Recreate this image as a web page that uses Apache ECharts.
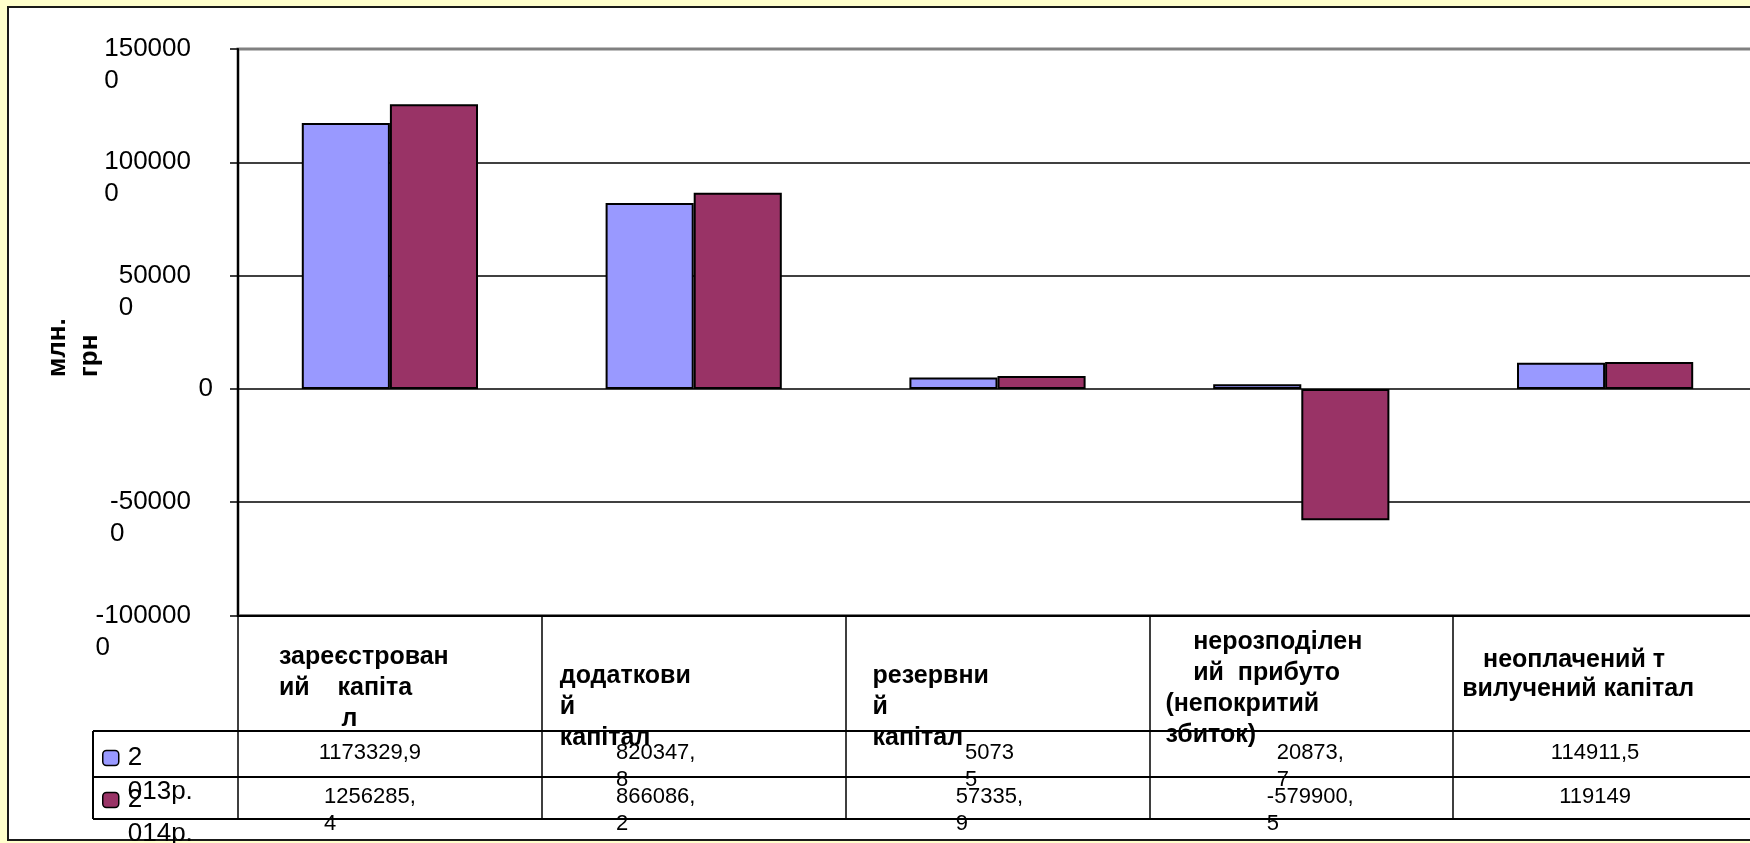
<!DOCTYPE html>
<html>
<head>
<meta charset="utf-8">
<title>Власний капітал</title>
<script src="https://cdn.jsdelivr.net/npm/echarts@6/dist/echarts.min.js"></script>
<style>
    html, body {
        margin: 0;
        padding: 0;
        background: #ffffcc;
        overflow: hidden;
    }
    .panel {
        position: absolute;
        left: 7px;
        top: 6px;
        width: 1800px;
        height: 831px;
        background: #fff;
        border: 2px solid #1a1a1a;
    }
    #chart {
        position: absolute;
        left: 0;
        top: 0;
        width: 1750px;
        height: 843px;
    }
</style>
</head>
<body>
<div class="panel"></div>
<div id="chart"></div>
<script>
    // підписи категорій так, як вони перенесені в таблиці даних
    var categories = [
        'зареєстрован\nий    капіта\n         л',
        'додаткови\nй\nкапітал',
        'резервни\nй\nкапітал',
        '    нерозподілен\n    ий  прибуто\n(непокритий\nзбиток)',
        '   неоплачений т\nвилучений капітал'
    ];
    var seriesNames = ['2013р.', '2014р.'];
    var values2013 = [1173329.9, 820347.8, 50735, 20873.7, 114911.5];
    var values2014 = [1256285.4, 866086.2, 57335.9, -579900.5, 119149];
    var yMin = -1000000;
    var yMax = 1500000;
    var yStep = 500000;

    // де в таблиці останній знак переноситься на новий рядок
    var wrap2013 = [false, true, true, true, false];
    var wrap2014 = [true, true, true, true, false];
    // відступи заголовків колонок [зверху, зліва] і висота рядка
    var headerPad = [[18, 41], [37, 18], [37, 27], [3, 16], [22, 9]];
    var headerLineHeight = [31, 31, 31, 31, 29];
    // зсув чисел у клітинках від середини колонки
    var cellShift = [-20, -38, -8, 9, -10];

    var font = '"Liberation Sans", Arial, sans-serif';
    var colors = ['#9999ff', '#993366'];

    function cellText(v) {
        return String(v).replace('.', ',');
    }
    function wrapLast(s) {
        return s.slice(0, -1) + '\n' + s.slice(-1);
    }
    function rowLabels(values, wraps) {
        return values.map(function (v, i) {
            var s = cellText(v);
            var t = cellShift[i];
            return {
                value: wraps[i] ? wrapLast(s) : s,
                textStyle: {
                    align: 'center',
                    verticalAlign: 'top',
                    padding: [0, Math.max(0, -2 * t), 0, Math.max(0, 2 * t)]
                }
            };
        });
    }
    function richLines(s) {
        return s.split('\n').map(function (line) {
            return '{v|' + line + '}';
        }).join('\n');
    }

    var headerData = categories.map(function (name, i) {
        return {
            value: name,
            textStyle: {
                align: 'left',
                verticalAlign: 'top',
                padding: [headerPad[i][0], 0, 0, headerPad[i][1]],
                lineHeight: headerLineHeight[i]
            }
        };
    });
    headerData.push('');

    function valueAxis(labels, margin) {
        return {
            type: 'category',
            gridIndex: 0,
            position: 'bottom',
            data: labels,
            min: 0,
            max: labels.length - 1,
            axisLine: {show: false, onZero: false},
            axisTick: {show: false},
            splitLine: {show: false},
            axisLabel: {
                interval: 0,
                margin: margin,
                formatter: function (value) {
                    return richLines(value);
                },
                rich: {
                    v: {fontSize: 22, fontFamily: font, color: '#000', lineHeight: 27, align: 'left'}
                }
            }
        };
    }

    function legendFor(index, top) {
        return {
            data: [seriesNames[index]],
            left: 102,
            top: top,
            orient: 'vertical',
            padding: 0,
            itemWidth: 16,
            itemHeight: 15,
            selectedMode: false,
            itemStyle: {borderColor: '#000', borderWidth: 1.5},
            textStyle: {fontSize: 26, fontFamily: font, color: '#000', lineHeight: 34, padding: [0, 0, 0, 4]},
            formatter: function (name) {
                return '\u00a0\n' + name.slice(0, 1) + '\n' + name.slice(1);
            }
        };
    }

    var chart = echarts.init(document.getElementById('chart'));
    chart.setOption({
        animation: false,
        textStyle: {fontFamily: font},
        grid: {
            left: 238,
            top: 49,
            width: 1519,
            bottom: 227.5,
            outerBoundsMode: 'none',
            show: true,
            borderColor: '#808080',
            borderWidth: 3
        },
        legend: [legendFor(0, 707), legendFor(1, 749)],
        xAxis: [
            {
                type: 'category',
                position: 'bottom',
                data: categories,
                axisLine: {show: true, onZero: false, lineStyle: {color: '#000', width: 2}},
                axisTick: {show: true, length: 203.5, lineStyle: {color: '#000', width: 1.5}},
                axisLabel: {show: false},
                splitLine: {show: false}
            },
            {
                type: 'category',
                position: 'bottom',
                boundaryGap: false,
                data: headerData,
                min: 0,
                max: headerData.length - 1,
                axisLine: {show: false, onZero: false},
                axisTick: {show: false},
                splitLine: {show: false},
                axisLabel: {
                    interval: 0,
                    margin: 8,
                    align: 'left',
                    verticalAlign: 'top',
                    fontSize: 25,
                    fontWeight: 'bold',
                    fontFamily: font,
                    color: '#000',
                    lineHeight: 31
                }
            },
            valueAxis(rowLabels(values2013, wrap2013), 124),
            valueAxis(rowLabels(values2014, wrap2014), 168)
        ],
        yAxis: {
            type: 'value',
            min: yMin,
            max: yMax,
            interval: yStep,
            axisLine: {show: true, lineStyle: {color: '#000', width: 2}},
            axisTick: {show: true, length: 8, lineStyle: {color: '#000', width: 1.5}},
            splitLine: {show: true, showMaxLine: false, lineStyle: {color: '#000', width: 1.5}},
            axisLabel: {
                margin: 25,
                color: '#000',
                fontSize: 26,
                fontFamily: font,
                formatter: function (value) {
                    if (value === 0) {
                        return '0';
                    }
                    var lines = wrapLast(String(value)).split('\n');
                    return '{m|\u00a0}\n{m|' + lines[0] + '}\n{m|' + lines[1] + '}';
                },
                rich: {
                    m: {fontSize: 26, fontFamily: font, color: '#000', lineHeight: 32, align: 'left', padding: [0, 22, 0, 0]}
                }
            }
        },
        series: [
            {
                name: seriesNames[0],
                type: 'bar',
                xAxisIndex: 0,
                barGap: '0%',
                barCategoryGap: '42%',
                itemStyle: {color: colors[0], borderColor: '#000', borderWidth: 2},
                data: values2013
            },
            {
                name: seriesNames[1],
                type: 'bar',
                xAxisIndex: 0,
                barGap: '0%',
                barCategoryGap: '42%',
                itemStyle: {color: colors[1], borderColor: '#000', borderWidth: 2},
                data: values2014
            }
        ],
        graphic: [
            {type: 'line', shape: {x1: 93, y1: 731, x2: 1750, y2: 731}, style: {stroke: '#000', lineWidth: 2}},
            {type: 'line', shape: {x1: 93, y1: 777, x2: 1750, y2: 777}, style: {stroke: '#000', lineWidth: 2}},
            {type: 'line', shape: {x1: 93, y1: 819, x2: 1750, y2: 819}, style: {stroke: '#000', lineWidth: 2}},
            {type: 'line', shape: {x1: 93, y1: 731, x2: 93, y2: 819}, style: {stroke: '#000', lineWidth: 2}},
            {
                type: 'text',
                x: 42,
                y: 377,
                rotation: Math.PI / 2,
                style: {
                    text: 'млн.\nгрн',
                    fontSize: 26,
                    fontWeight: 'bold',
                    fontFamily: font,
                    fill: '#000',
                    align: 'left',
                    verticalAlign: 'top',
                    lineHeight: 32
                }
            }
        ]
    });
</script>
</body>
</html>
